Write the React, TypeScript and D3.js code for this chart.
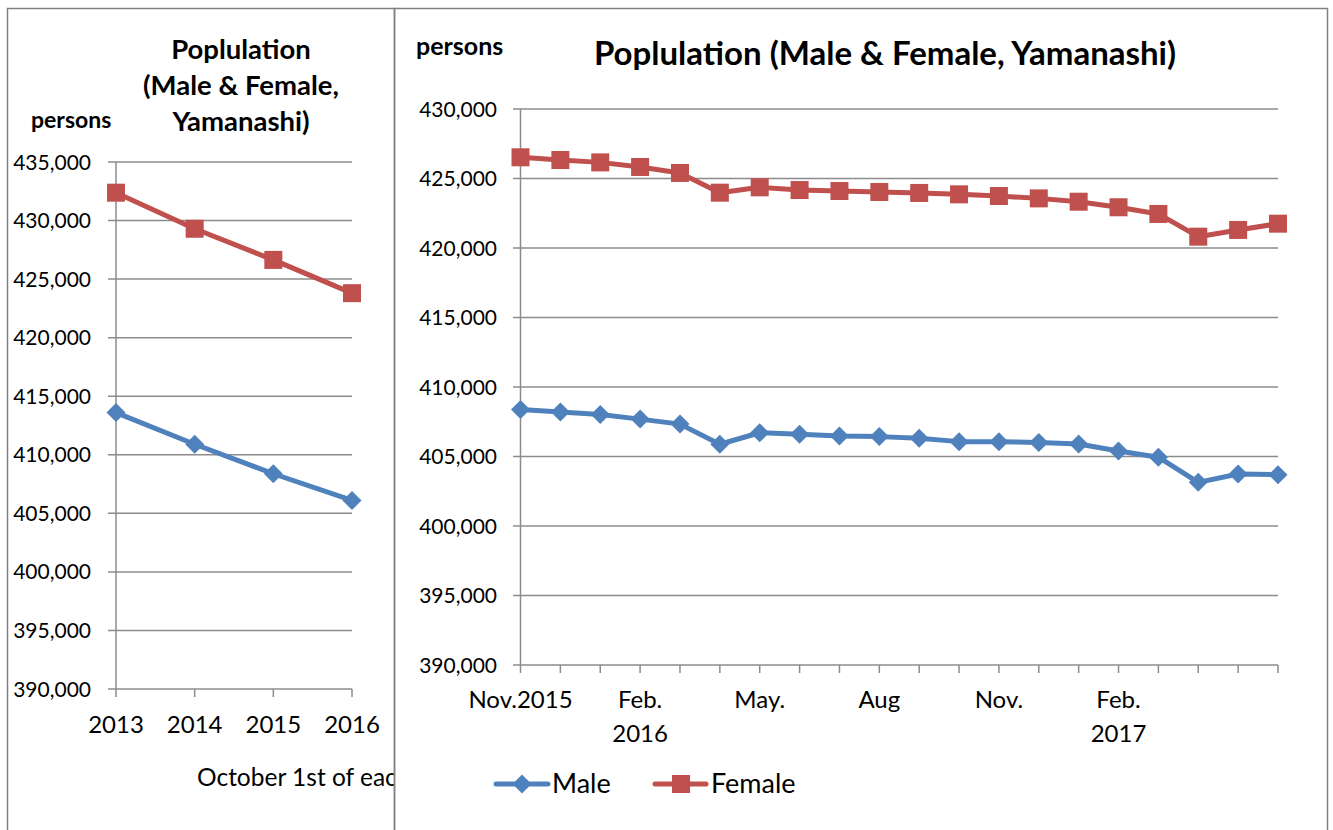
import React from "react";
import * as d3 from "d3";

// ---- Data ----
const years = ["2013", "2014", "2015", "2016"];
const annualMale = [413600, 410900, 408380, 406100];
const annualFemale = [432380, 429300, 426640, 423800];

const months = [
  "2015-11", "2015-12", "2016-01", "2016-02", "2016-03", "2016-04", "2016-05",
  "2016-06", "2016-07", "2016-08", "2016-09", "2016-10", "2016-11", "2016-12",
  "2017-01", "2017-02", "2017-03", "2017-04", "2017-05", "2017-06",
];
const monthTickLine1 = [
  "Nov.2015", "", "", "Feb.", "", "", "May.", "", "", "Aug", "", "",
  "Nov.", "", "", "Feb.", "", "", "", "",
];
const monthTickLine2 = [
  "", "", "", "2016", "", "", "", "", "", "", "", "",
  "", "", "", "2017", "", "", "", "",
];
const monthlyMale = [
  408380, 408210, 408020, 407690, 407330, 405880, 406710, 406600, 406480, 406430,
  406310, 406070, 406070, 406000, 405900, 405400, 404950, 403140, 403740, 403690,
];
const monthlyFemale = [
  426525, 426330, 426160, 425830, 425400, 423980, 424365, 424170, 424100, 424030,
  423960, 423860, 423740, 423570, 423330, 422930, 422450, 420815, 421300, 421750,
];
const leftYTicks = [390000, 395000, 400000, 405000, 410000, 415000, 420000, 425000, 430000, 435000];
const rightYTicks = [390000, 395000, 400000, 405000, 410000, 415000, 420000, 425000, 430000];

const BLUE = "#4F81BD";
const RED = "#C0504D";
const GRID = "#8c8c8c";
const FONT = "Lato, 'Open Sans', sans-serif";
const fmt = d3.format(",");

function diamond(x: number, y: number, r: number) {
  return `M${x},${y - r}L${x + r},${y}L${x},${y + r}L${x - r},${y}Z`;
}

function Markers({ xs, ys, kind }: { xs: number[]; ys: number[]; kind: "d" | "s" }) {
  return (
    <g>
      {xs.map((x, i) =>
        kind === "d" ? (
          <path key={i} d={diamond(x, ys[i], 9.5)} fill={BLUE} />
        ) : (
          <rect key={i} x={x - 9} y={ys[i] - 9} width={18} height={18} fill={RED} />
        )
      )}
    </g>
  );
}

function LeftChart() {
  const x = d3.scalePoint<string>().domain(years).range([116, 352]).padding(0);
  const y = d3.scaleLinear().domain([390000, 435000]).range([689, 162]);
  const line = d3.line<number>().x((_, i) => x(years[i])!).y((v) => y(v));
  const xs = years.map((c) => x(c)!);
  return (
    <g clipPath="url(#leftClip)">
      <text x={241} y={59} textAnchor="middle" fontSize={27.5} fontWeight="bold">Poplulation</text>
      <text x={241} y={95} textAnchor="middle" fontSize={27.5} fontWeight="bold">(Male &amp; Female,</text>
      <text x={241} y={131} textAnchor="middle" fontSize={27.5} fontWeight="bold">Yamanashi)</text>
      <text x={31} y={128} fontSize={23} fontWeight="bold">persons</text>
      {leftYTicks.map((t) => (
        <g key={t}>
          <line x1={108} x2={352} y1={y(t)} y2={y(t)} stroke={GRID} strokeWidth={1.5} />
          <text x={91} y={y(t) + 7.5} textAnchor="end" fontSize={21}>{fmt(t)}</text>
        </g>
      ))}
      <line x1={116} x2={116} y1={162} y2={689} stroke={GRID} strokeWidth={1.5} />
      {years.map((c) => (
        <g key={c}>
          <line x1={x(c)} x2={x(c)} y1={689} y2={697} stroke={GRID} strokeWidth={1.5} />
          <text x={x(c)} y={733} textAnchor="middle" fontSize={24}>{c}</text>
        </g>
      ))}
      <text x={197} y={786} fontSize={24.5}>October 1st of each year</text>
      <path d={line(annualFemale)!} fill="none" stroke={RED} strokeWidth={5} strokeLinejoin="round" />
      <path d={line(annualMale)!} fill="none" stroke={BLUE} strokeWidth={5} strokeLinejoin="round" />
      <Markers xs={xs} ys={annualFemale.map((v) => y(v))} kind="s" />
      <Markers xs={xs} ys={annualMale.map((v) => y(v))} kind="d" />
    </g>
  );
}

function RightChart() {
  const x = d3.scalePoint<string>().domain(months).range([520.5, 1278]).padding(0);
  const y = d3.scaleLinear().domain([390000, 430000]).range([665, 109]);
  const line = d3.line<number>().x((_, i) => x(months[i])!).y((v) => y(v));
  const xs = months.map((c) => x(c)!);
  return (
    <g>
      <text x={416} y={55} fontSize={25} fontWeight="bold">persons</text>
      <text x={885} y={65} textAnchor="middle" fontSize={33} fontWeight="bold">
        Poplulation (Male &amp; Female, Yamanashi)
      </text>
      {rightYTicks.map((t) => (
        <g key={t}>
          <line x1={513} x2={1278} y1={y(t)} y2={y(t)} stroke={GRID} strokeWidth={1.5} />
          <text x={497} y={y(t) + 7.5} textAnchor="end" fontSize={21}>{fmt(t)}</text>
        </g>
      ))}
      <line x1={520.5} x2={520.5} y1={109} y2={665} stroke={GRID} strokeWidth={1.5} />
      {months.map((c, i) => (
        <g key={c}>
          <line x1={x(c)} x2={x(c)} y1={665} y2={673} stroke={GRID} strokeWidth={1.5} />
          {monthTickLine1[i] && (
            <text x={x(c)} y={708} textAnchor="middle" fontSize={24}>{monthTickLine1[i]}</text>
          )}
          {monthTickLine2[i] && (
            <text x={x(c)} y={742} textAnchor="middle" fontSize={24}>{monthTickLine2[i]}</text>
          )}
        </g>
      ))}
      <path d={line(monthlyFemale)!} fill="none" stroke={RED} strokeWidth={5} strokeLinejoin="round" />
      <path d={line(monthlyMale)!} fill="none" stroke={BLUE} strokeWidth={5} strokeLinejoin="round" />
      <Markers xs={xs} ys={monthlyFemale.map((v) => y(v))} kind="s" />
      <Markers xs={xs} ys={monthlyMale.map((v) => y(v))} kind="d" />
      {/* legend */}
      <line x1={496} x2={548} y1={784} y2={784} stroke={BLUE} strokeWidth={5} strokeLinecap="round" />
      <path d={diamond(522, 784, 9.5)} fill={BLUE} />
      <text x={552} y={793} fontSize={27}>Male</text>
      <line x1={655} x2={706} y1={784} y2={784} stroke={RED} strokeWidth={5} strokeLinecap="round" />
      <rect x={672} y={775} width={18} height={18} fill={RED} />
      <text x={711} y={793} fontSize={27}>Female</text>
    </g>
  );
}

export default function App() {
  return (
    <svg
      width={1333}
      height={830}
      style={{ position: "absolute", left: 0, top: 0, display: "block", background: "#fff" }}
      fontFamily={FONT}
      fill="#000"
    >
      <defs>
        <clipPath id="leftClip">
          <rect x={0} y={0} width={394} height={830} />
        </clipPath>
      </defs>
      <rect x={0} y={0} width={1333} height={830} fill="#fff" />
      <LeftChart />
      <RightChart />
      {/* frames */}
      <path d="M7.5,830V8.5H394.5V830" fill="none" stroke="#808080" strokeWidth={1.5} />
      <path d="M394.5,830V8.5H1327.5V830" fill="none" stroke="#808080" strokeWidth={1.5} />
    </svg>
  );
}
